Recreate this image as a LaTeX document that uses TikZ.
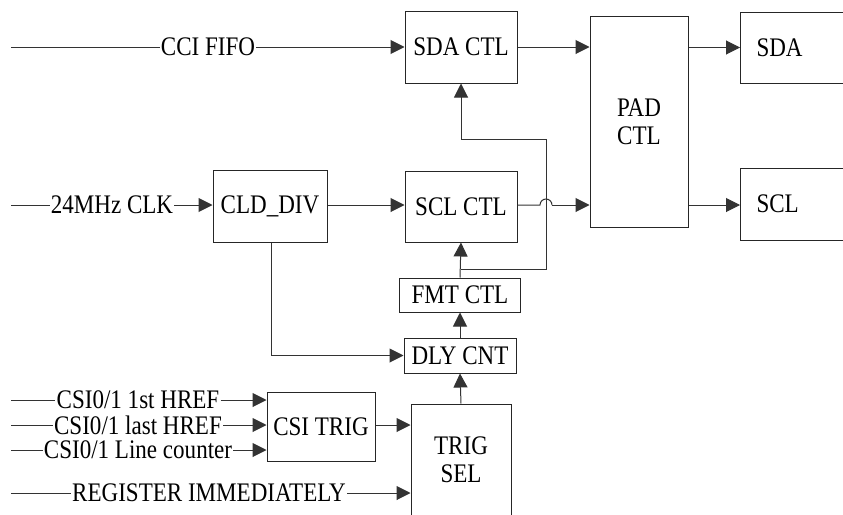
\documentclass[tikz,border=0pt]{standalone}
\usepackage{fontspec}
\setmainfont{Liberation Serif}[FakeStretch=0.86]
\usetikzlibrary{arrows.meta}
\begin{document}
\begin{tikzpicture}[x=1pt,y=-1pt,
  every node/.style={font=\fontsize{26.8}{28}\selectfont},
  blk/.style={draw=black!85, line width=1pt, rectangle, inner sep=0pt, align=center},
  lbl/.style={inner sep=1pt},
  ln/.style={draw=black!80, line width=1pt},
  arr/.style={ln, -{Triangle[length=14pt,width=14pt]}}]
\useasboundingbox (0,0) rectangle (843,514);
% blocks
\node[blk, minimum width=112, minimum height=72] (sdactl) at (461,47) {SDA CTL};
\node[blk, minimum width=98, minimum height=211] (pad) at (639,121.5) {PAD\\CTL};
\node[blk, anchor=west, minimum height=71, text width=100, inner xsep=16, align=left] (sda) at (740,47.5) {SDA};
\node[blk, anchor=west, minimum height=72, text width=100, inner xsep=16, align=left] (scl) at (740,204) {SCL};
\node[blk, minimum width=114, minimum height=72] (clddiv) at (270,206) {CLD\_DIV};
\node[blk, minimum width=112, minimum height=71] (sclctl) at (461,206.5) {SCL CTL};
\node[blk, minimum width=121, minimum height=34] (fmt) at (460,295) {FMT CTL};
\node[blk, minimum width=112, minimum height=35] (dly) at (460,355.5) {DLY CNT};
\node[blk, minimum width=108, minimum height=69] (csitrig) at (321,426.5) {CSI TRIG};
\node[blk, minimum width=100, minimum height=112] (trigsel) at (461,460) {TRIG\\SEL};
% input labels
\node[lbl] (cci) at (208,47) {CCI FIFO};
\node[lbl] (clk) at (112,205) {24MHz CLK};
\node[lbl] (h1) at (138,400) {CSI0/1 1st HREF};
\node[lbl] (h2) at (138,425) {CSI0/1 last HREF};
\node[lbl] (lc) at (138,450) {CSI0/1 Line counter};
\node[lbl] (reg) at (209,493) {REGISTER IMMEDIATELY};
% free ends
\coordinate (s1) at (11,47);
\coordinate (s2) at (11,205);
\coordinate (s3) at (11,400);
\coordinate (s4) at (11,425);
\coordinate (s5) at (11,450);
\coordinate (s6) at (11,493);
\coordinate (br) at (461,269);
\coordinate (c1) at (546,269);
\coordinate (c2) at (546,139);
\coordinate (c3) at (461,139);
\coordinate (d1) at (271,355.5);
\coordinate (hop) at (540,205);
% connectors
\draw[ln] (s1) -- (cci.west);
\draw[arr] (cci.east) -- (sdactl.west);
\draw[ln] (s2) -- (clk.west);
\draw[arr] (clk.east) -- (clddiv.west |- clk.east);
\draw[arr] (clddiv.east |- 0,205) -- (sclctl.west |- 0,205);
\draw[arr] (sdactl.east) -- (pad.west |- sdactl.east);
\draw[arr] (pad.east |- sda.west) -- (sda.west);
\draw[arr] (pad.east |- 0,205) -- (scl.west |- 0,205);
\draw[ln] (sclctl.east |- hop) -- (hop) arc (180:360:6);
\draw[arr] (552,205) -- (pad.west |- hop);
\draw[arr] (fmt.north) -- (sclctl.south);
\draw[arr] (br) -- (c1) -- (c2) -- (c3) -- (sdactl.south);
\draw[arr] (dly.north) -- (fmt.south);
\draw[arr] (trigsel.north) -- (dly.south);
\draw[arr] (clddiv.south -| d1) -- (d1) -- (dly.west);
\draw[ln] (s3) -- (h1.west);
\draw[arr] (h1.east) -- (csitrig.west |- h1.east);
\draw[ln] (s4) -- (h2.west);
\draw[arr] (h2.east) -- (csitrig.west |- h2.east);
\draw[ln] (s5) -- (lc.west);
\draw[arr] (lc.east) -- (csitrig.west |- lc.east);
\draw[arr] (csitrig.east |- 0,425) -- (trigsel.west |- 0,425);
\draw[ln] (s6) -- (reg.west);
\draw[arr] (reg.east) -- (trigsel.west |- reg.east);
\end{tikzpicture}
\end{document}
